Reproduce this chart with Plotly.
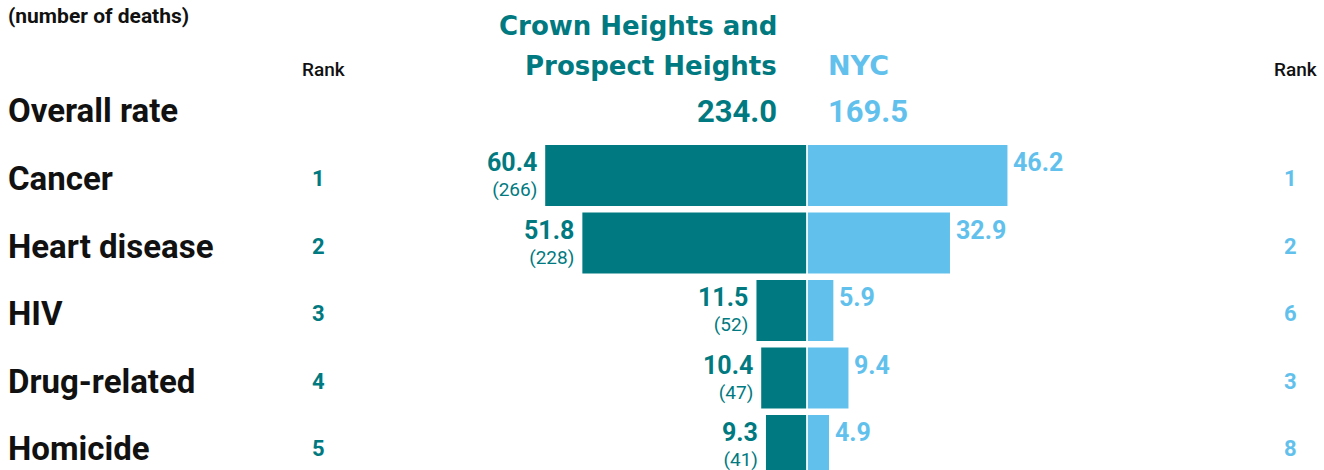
import plotly.graph_objects as go

# Death rates per 100,000 residents, by cause
causes = ["Cancer", "Heart disease", "HIV", "Drug-related", "Homicide"]
local_rate = [60.4, 51.8, 11.5, 10.4, 9.3]
local_deaths = [266, 228, 52, 47, 41]
nyc_rate = [46.2, 32.9, 5.9, 9.4, 4.9]
local_rank = [1, 2, 3, 4, 5]
nyc_rank = [1, 2, 6, 3, 8]
overall_local = 234.0
overall_nyc = 169.5

local_name = ["Crown Heights and", "Prospect Heights"]
nyc_name = "NYC"

TEAL = "#007a80"
BLUE = "#62c1ec"
INK = "#111111"

W, H = 1324, 470
GAP = 0.2           # half gap between the two bar columns (data units)
PX_PER_UNIT = 4.32  # horizontal scale
CENTER_PX = 807
ROW_PX = 67.5
FIRST_ROW_PX = 175.5

rows = list(range(len(causes)))

x_range = [-CENTER_PX / PX_PER_UNIT, (W - CENTER_PX) / PX_PER_UNIT]
y_range = [(H - FIRST_ROW_PX) / ROW_PX, -FIRST_ROW_PX / ROW_PX]


def px_x(p):
    return p / W


def px_y(p):
    return 1 - p / H


fig = go.Figure()

fig.add_trace(go.Bar(
    y=rows, x=[-v for v in local_rate], base=-GAP, orientation="h",
    marker=dict(color=TEAL, line=dict(width=0)), width=61 / ROW_PX,
    hoverinfo="skip", showlegend=False,
))
fig.add_trace(go.Bar(
    y=rows, x=nyc_rate, base=GAP, orientation="h",
    marker=dict(color=BLUE, line=dict(width=0)), width=61 / ROW_PX,
    hoverinfo="skip", showlegend=False,
))

ann = []


def text(s, x, y, size, color, weight="bold", xanchor="left", family="Roboto",
         xref="paper", yref="paper", xshift=0, yshift=0, align=None):
    ann.append(dict(
        text=s, x=x, y=y, xref=xref, yref=yref, xanchor=xanchor, yanchor="middle",
        xshift=xshift, yshift=yshift, showarrow=False, borderpad=0, borderwidth=0,
        align=align or xanchor if xanchor != "center" else "center",
        font=dict(family=family, size=size, color=color, weight=weight),
    ))


# header block
text("(number of deaths)", px_x(8), px_y(16), 21, INK)
text("Rank", px_x(324), px_y(69), 19, INK, weight=500, xanchor="center")
text("Rank", px_x(1296), px_y(69), 19, INK, weight=500, xanchor="center")
text(local_name[0], px_x(777), px_y(26), 26, TEAL, xanchor="right", family="DejaVu Sans")
text(local_name[1], px_x(777), px_y(66), 26, TEAL, xanchor="right", family="DejaVu Sans")
text(nyc_name, px_x(828), px_y(66), 27, BLUE, family="DejaVu Sans")

# overall rate row
text("Overall rate", px_x(8), px_y(110), 33, INK)
text(f"{overall_local:.1f}", px_x(777), px_y(111), 31, TEAL, xanchor="right")
text(f"{overall_nyc:.1f}", px_x(828), px_y(111), 31, BLUE)

# cause rows
for i, cause in enumerate(causes):
    text(cause, px_x(8), i, 33, INK, yref="y", yshift=-3)
    text(str(local_rank[i]), px_x(318), i, 22, TEAL, xanchor="center", yref="y", yshift=-3)
    text(str(nyc_rank[i]), px_x(1290), i, 22, BLUE, xanchor="center", yref="y", yshift=-3)
    # rate on the first line, death count below it
    label = (f"<span style='font-size:25px;font-weight:bold'>{local_rate[i]:.1f}</span>"
             f"<br>({local_deaths[i]})")
    text(label, -GAP - local_rate[i], i, 19, TEAL, weight="normal", xanchor="right",
         xref="x", yref="y", xshift=-8, yshift=1)
    text(f"{nyc_rate[i]:.1f}", GAP + nyc_rate[i], i, 25, BLUE, xref="x", yref="y",
         xshift=6, yshift=13)

fig.update_layout(
    width=W, height=H,
    margin=dict(l=0, r=0, t=0, b=0),
    paper_bgcolor="white", plot_bgcolor="white",
    barmode="overlay",
    xaxis=dict(range=x_range, visible=False, fixedrange=True),
    yaxis=dict(range=y_range, visible=False, fixedrange=True),
    annotations=ann,
)

fig.write_html("out.html", config={"displayModeBar": False})
